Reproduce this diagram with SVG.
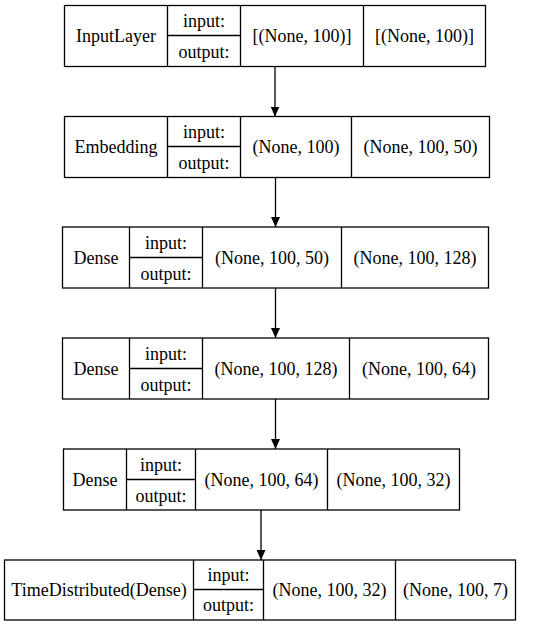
<svg xmlns="http://www.w3.org/2000/svg" width="551" height="627" viewBox="0 0 551 627">
<defs>
<style>
.b{fill:none;stroke:#000;stroke-width:1.3}
.t{font-family:"Liberation Serif","Times New Roman",serif;font-size:18px;fill:#000;text-anchor:middle}
.e{stroke:#000;stroke-width:1.3;fill:none}
</style>
<marker id="ah" markerWidth="10" markerHeight="9" refX="10" refY="4.5" orient="auto" markerUnits="userSpaceOnUse">
<path d="M0,0 L10,4.5 L0,9 Z" fill="#000"/>
</marker>
</defs>
<rect width="551" height="627" fill="#fff"/>
<g id="connectors">
<line class="e" x1="275" y1="66.5" x2="275" y2="116.5" marker-end="url(#ah)"/>
<line class="e" x1="275.5" y1="177" x2="275.5" y2="227" marker-end="url(#ah)"/>
<line class="e" x1="275.5" y1="288" x2="275.5" y2="338" marker-end="url(#ah)"/>
<line class="e" x1="275.5" y1="399" x2="275.5" y2="449" marker-end="url(#ah)"/>
<line class="e" x1="261" y1="510" x2="261" y2="560" marker-end="url(#ah)"/>
</g>
<g id="n1">
<rect class="b" x="64.5" y="5.5" width="421" height="61"/>
<path class="b" d="M167.5,5.5V66.5M240.5,5.5V66.5M363.5,5.5V66.5M167.5,35.5H240.5"/>
<text class="t" x="116" y="41.5">InputLayer</text>
<text class="t" x="204" y="27">input:</text>
<text class="t" x="204" y="58">output:</text>
<text class="t" x="302" y="41.5">[(None, 100)]</text>
<text class="t" x="424.5" y="41.5">[(None, 100)]</text>
</g>
<g id="n2">
<rect class="b" x="64.5" y="116.5" width="425" height="61"/>
<path class="b" d="M167.5,116.5V177M240.5,116.5V177M351.5,116.5V177M167.5,146.5H240.5"/>
<text class="t" x="116" y="152.5">Embedding</text>
<text class="t" x="204" y="138">input:</text>
<text class="t" x="204" y="169">output:</text>
<text class="t" x="296" y="152.5">(None, 100)</text>
<text class="t" x="420.5" y="152.5">(None, 100, 50)</text>
</g>
<g id="n3">
<rect class="b" x="62.5" y="227" width="426" height="61"/>
<path class="b" d="M129.5,227V288M202.5,227V288M341.5,227V288M129.5,257.5H202.5"/>
<text class="t" x="96" y="263.5">Dense</text>
<text class="t" x="166" y="249">input:</text>
<text class="t" x="166" y="280">output:</text>
<text class="t" x="272" y="263.5">(None, 100, 50)</text>
<text class="t" x="415" y="263.5">(None, 100, 128)</text>
</g>
<g id="n4">
<rect class="b" x="62.5" y="338" width="426" height="61"/>
<path class="b" d="M129.5,338V399M202.5,338V399M349.5,338V399M129.5,368.5H202.5"/>
<text class="t" x="96" y="374.5">Dense</text>
<text class="t" x="166" y="360">input:</text>
<text class="t" x="166" y="391">output:</text>
<text class="t" x="276" y="374.5">(None, 100, 128)</text>
<text class="t" x="419" y="374.5">(None, 100, 64)</text>
</g>
<g id="n5">
<rect class="b" x="63.5" y="449" width="396" height="61"/>
<path class="b" d="M126.5,449V510M195.5,449V510M327.5,449V510M126.5,479.5H195.5"/>
<text class="t" x="95" y="485.5">Dense</text>
<text class="t" x="161" y="471">input:</text>
<text class="t" x="161" y="502">output:</text>
<text class="t" x="261.5" y="485.5">(None, 100, 64)</text>
<text class="t" x="393.5" y="485.5">(None, 100, 32)</text>
</g>
<g id="n6">
<rect class="b" x="4.5" y="560" width="511" height="60"/>
<path class="b" d="M193.5,560V620M263.5,560V620M395.5,560V620M193.5,589.5H263.5"/>
<text class="t" x="99" y="596">TimeDistributed(Dense)</text>
<text class="t" x="228.5" y="581">input:</text>
<text class="t" x="228.5" y="611">output:</text>
<text class="t" x="329.5" y="596">(None, 100, 32)</text>
<text class="t" x="455.5" y="596">(None, 100, 7)</text>
</g>
</svg>
